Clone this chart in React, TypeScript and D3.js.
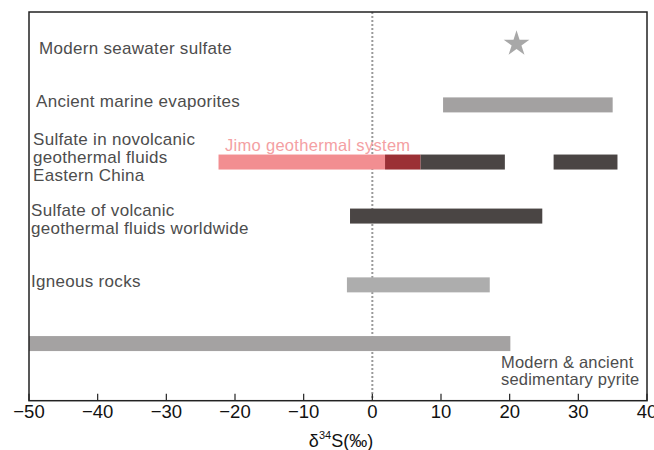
import React from "react";
import * as d3 from "d3";

const W = 654;
const H = 450;

// x axis ticks (δ34S ‰)
const xTicks = [-50, -40, -30, -20, -10, 0, 10, 20, 30, 40];

// row positions (arbitrary vertical units, 0 = axis, 10 = top)
const rowNames = ["seawater", "evaporites", "nonvolcanic", "volcanic", "igneous", "pyrite"];
const rowPos = [9.18, 7.61, 6.14, 4.75, 2.98, 1.47];

// ranges (δ34S ‰)
const rangeRows = ["evaporites", "nonvolcanic", "nonvolcanic", "volcanic", "igneous", "pyrite", "nonvolcanic", "nonvolcanic"];
const rangeMin = [10.3, 7.0, 26.4, -3.25, -3.7, -50, -22.4, 1.85];
const rangeMax = [35.0, 19.3, 35.7, 24.75, 17.1, 20.1, 1.85, 7.0];
const rangeColor = ["#a3a1a1", "#4a4544", "#4a4544", "#4a4544", "#adadad", "#a4a2a2", "#f28e91", "#9b3035"];

// seawater sulfate point
const starValue = 21.0;

// labels
const labelLines = [
  ["Modern seawater sulfate"],
  ["Ancient marine evaporites"],
  ["Sulfate in novolcanic", "geothermal fluids", "Eastern China"],
  ["Sulfate of volcanic", "geothermal fluids worldwide"],
  ["Igneous rocks"],
];
const labelX = [39, 36, 33, 31, 31];
const labelY = [54, 107.3, 145, 215.7, 287.3];

export default function App() {
  const left = 29, right = 647, top = 12, bottom = 400.7;
  const x = d3.scaleLinear().domain([-50, 40]).range([left, right]);
  const y = d3.scaleLinear().domain([0, 10]).range([bottom, top]);
  const rowY = (name: string) => y(rowPos[rowNames.indexOf(name)]);
  const barH = 15;
  const starPath = d3.symbol().type(d3.symbolStar).size(205)() as string;
  const fmt = d3.format("");
  const font = "'Liberation Sans', Arial, sans-serif";
  const textColor = "#4d4d4d";

  return (
    <svg width={W} height={H} style={{ position: "absolute", left: 0, top: 0, background: "#fff" }} fontFamily={font}>
      {/* zero line */}
      <line x1={x(0)} x2={x(0)} y1={top} y2={bottom} stroke="#9a9a9a" strokeWidth={2} strokeDasharray="2,2" />

      {/* bars */}
      {rangeMin.map((m, i) => (
        <rect key={i} x={x(m)} width={x(rangeMax[i]) - x(m)} y={rowY(rangeRows[i]) - barH / 2} height={barH} fill={rangeColor[i]} />
      ))}

      {/* star */}
      <path d={starPath} transform={`translate(${x(starValue)},${rowY("seawater")})`} fill="#a8a8a8" />

      {/* frame */}
      <rect x={left} y={top} width={right - left} height={bottom - top} fill="none" stroke="#222" strokeWidth={1.5} />

      {/* ticks */}
      {xTicks.map((t) => (
        <g key={t}>
          <line x1={x(t)} x2={x(t)} y1={bottom} y2={bottom - 7} stroke="#222" strokeWidth={1.2} />
          <text x={x(t)} y={418.3} textAnchor="middle" fontSize={18.5} fill="#111">
            {t < 0 ? "\u2212" + fmt(-t) : fmt(t)}
          </text>
        </g>
      ))}

      {/* axis title */}
      <text x={341} y={446.5} textAnchor="middle" fontSize={18} fill="#111">
        δ<tspan fontSize={11} dy={-8}>34</tspan>
        <tspan dy={8}>S(‰)</tspan>
      </text>

      {/* row labels */}
      {labelLines.map((lines, i) => (
        <text key={i} x={labelX[i]} y={labelY[i]} fontSize={17} letterSpacing={0.3} fill={textColor}>
          {lines.map((l, j) => (
            <tspan key={j} x={labelX[i]} dy={j === 0 ? 0 : 17.8}>{l}</tspan>
          ))}
        </text>
      ))}

      {/* Jimo label */}
      <text x={225} y={150.7} fontSize={16.5} letterSpacing={0.3} fill="#f4a0a3">Jimo geothermal system</text>

      {/* pyrite label */}
      <text x={501} y={368.3} fontSize={16.5} letterSpacing={0.2} fill={textColor}>
        <tspan x={501}>Modern &amp; ancient</tspan>
        <tspan x={501} dy={16.7}>sedimentary pyrite</tspan>
      </text>
    </svg>
  );
}
